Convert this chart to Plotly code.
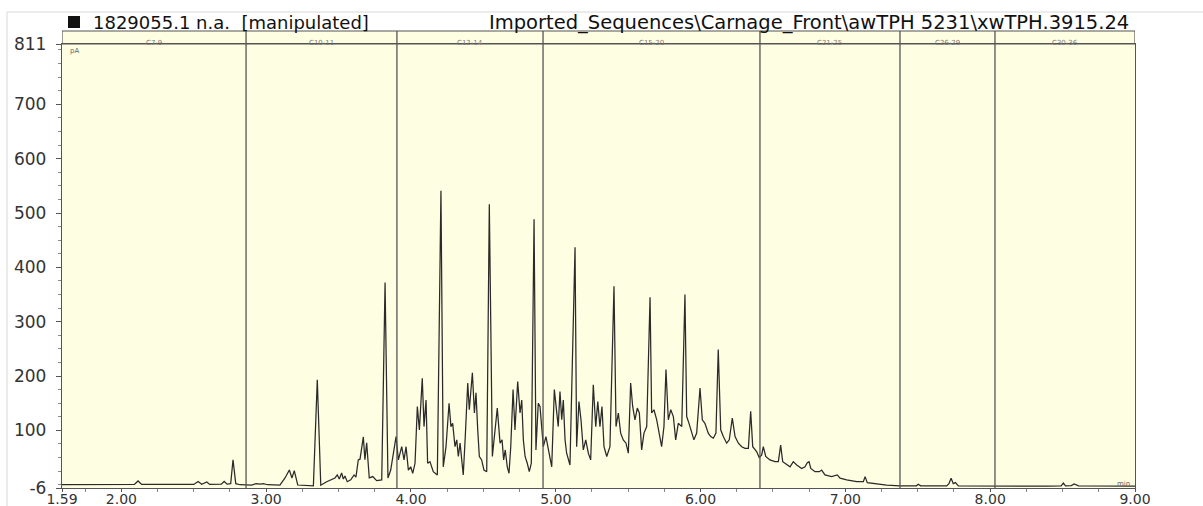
import plotly.graph_objects as go

# ---------------- data ----------------
time_min = [
    1.59, 1.80, 2.09, 2.115, 2.14, 2.50, 2.53, 2.555, 2.59, 2.61, 2.69, 2.71, 2.73, 2.755, 2.771, 2.79, 2.82, 2.90,
    2.93, 2.96, 2.98, 3.01, 3.095, 3.13, 3.160, 3.178, 3.194, 3.218, 3.326, 3.353, 3.377,
    3.418, 3.453, 3.475, 3.491, 3.505, 3.521, 3.533, 3.544, 3.560, 3.584, 3.607, 3.620, 3.636, 3.648,
    3.671, 3.682, 3.694, 3.712, 3.736, 3.763, 3.798, 3.821, 3.841, 3.860, 3.878, 3.897,
    3.913, 3.936, 3.952, 3.966, 3.982, 3.998, 4.012, 4.028, 4.044, 4.058, 4.078, 4.090, 4.104, 4.115,
    4.131, 4.154, 4.182, 4.207, 4.223, 4.242, 4.263, 4.276, 4.288, 4.304, 4.316, 4.327, 4.339, 4.350,
    4.361, 4.375, 4.392, 4.403, 4.424, 4.438, 4.449, 4.461, 4.472, 4.488, 4.504, 4.523, 4.541, 4.562,
    4.580, 4.596, 4.615, 4.629, 4.640, 4.651, 4.665, 4.677, 4.689, 4.705, 4.718, 4.737, 4.753, 4.765,
    4.776, 4.788, 4.803, 4.817, 4.831, 4.850, 4.863, 4.879, 4.891, 4.914, 4.932, 4.948, 4.972, 4.990,
    5.006, 5.017, 5.029, 5.041, 5.052, 5.064, 5.075, 5.098, 5.133, 5.144, 5.160, 5.174, 5.190, 5.207,
    5.225, 5.241, 5.259, 5.276, 5.290, 5.305, 5.319, 5.333, 5.352, 5.374, 5.402, 5.416, 5.432, 5.448,
    5.466, 5.485, 5.501, 5.517, 5.531, 5.547, 5.563, 5.577, 5.593, 5.609, 5.628, 5.651, 5.662, 5.678,
    5.697, 5.715, 5.731, 5.747, 5.761, 5.777, 5.794, 5.812, 5.828, 5.846, 5.870, 5.892, 5.904, 5.920,
    5.939, 5.954, 5.973, 5.996, 6.012, 6.030, 6.053, 6.070, 6.088, 6.106, 6.122, 6.139, 6.157, 6.180,
    6.198, 6.219, 6.238, 6.261, 6.284, 6.307, 6.330, 6.346, 6.360, 6.387, 6.405, 6.422, 6.433, 6.450,
    6.479, 6.514, 6.537, 6.553, 6.567, 6.599, 6.618, 6.640, 6.664, 6.698, 6.721, 6.737, 6.749, 6.761,
    6.790, 6.820, 6.836, 6.859, 6.905, 6.944, 6.963, 7.009, 7.078, 7.124, 7.136, 7.151, 7.216, 7.285,
    7.377, 7.49, 7.503, 7.52, 7.70, 7.715, 7.73, 7.745, 7.76, 7.78, 8.40, 8.49, 8.505, 8.52, 8.56,
    8.58, 8.61, 9.00,
]
signal_pa = [
    0, 0, 0.5, 7, 0.5, 0.5, 6, 1, 5, 0.5, 1, 6, 1, 2, 46, 2, 0, -0.5,
    2, 1, 2, 0, -0.5, 12.5, 27, 12.5, 26, -0.5, -2, 193, -1,
    5.6, 9, 12.5, 18, 10.6, 21.7, 10.6, 16, 5.6, 9, 18, 14, 45.7, 47,
    88, 46, 77, 12.5, 15, 7.5, 9, 372, 12.5, 27, 58.6, 88.7,
    45.7, 70, 45.7, 70, 27, 33, 21, 39.5, 144, 101, 196, 107, 156, 39.5,
    42.5, 24, 18, 541, 33, 70, 150, 107, 113, 70, 82.6, 52, 76.5, 39.5,
    18, 88.7, 187, 138, 206, 132, 169, 101, 52, 45.7, 27, 24, 516, 52,
    107, 141, 76.5, 82.6, 45.7, 64, 33, 21, 70, 175, 101, 190, 132, 156,
    82.6, 52, 39.5, 24, 39.5, 488.5, 64, 150, 144, 70, 88.7, 64, 33, 175,
    132, 107, 171.7, 119.5, 156, 82.6, 58, 36.4, 437, 70, 153, 119.5, 64, 82.6,
    58, 45.7, 184, 107, 153, 107, 144, 70, 52, 70, 365, 107, 132, 95,
    82.6, 76.5, 58, 187, 144, 119.5, 141, 132, 64, 95, 107, 345, 132, 138,
    119.5, 88.7, 70, 107, 212, 119.5, 138, 125.5, 82.6, 113, 107, 350, 125.5, 113,
    95, 82.6, 95, 178, 119.5, 113, 95, 88.7, 85.7, 95, 249, 101, 88.7, 76.5,
    82.6, 122.6, 88.7, 76.5, 70, 67, 67, 135, 70, 61, 50, 55, 70, 52,
    45.7, 42.5, 42.5, 73, 42.5, 36.4, 33, 42.5, 36.4, 30, 33, 40.7, 42.5, 30,
    24, 24, 27, 18, 15, 18, 12, 8.8, 5.6, 5.6, 15, 3.8, 1.4, -0.5,
    -2.3, -2, 1, -2, -2, 2, 12, 2, 4, -2, -2.5, -2, 3, -2, -1.5,
    1.5, -2, -2.5,
]

band_edges = [1.59, 2.861, 3.903, 4.912, 6.41, 7.377, 8.033, 9.00]
band_labels = ["C7-9", "C10-11", "C12-14", "C15-20", "C21-25", "C26-29", "C30-36"]

x_tick_vals = [1.59, 2, 3, 4, 5, 6, 7, 8, 9]
x_tick_text = ["1.59", "2.00", "3.00", "4.00", "5.00", "6.00", "7.00", "8.00", "9.00"]
y_tick_vals = [-6, 100, 200, 300, 400, 500, 600, 700, 811]
y_tick_text = ["-6", "100", "200", "300", "400", "500", "600", "700", "811"]

header_left = "1829055.1 n.a.  [manipulated]"
header_right = "Imported_Sequences\\Carnage_Front\\awTPH 5231\\xwTPH.3915.24"

# ---------------- figure ----------------
BG = "#FEFEE2"
FRAME = "#555555"
FONT = "DejaVu Sans, Verdana, sans-serif"
PLOT_H = 444.0  # plot height in px (t=44 .. 488)
PLOT_W = 1073.0  # plot width in px (l=62 .. 1135)


def py(px_y):
    """page pixel row -> paper y"""
    return (488 - px_y) / PLOT_H


def px(px_x):
    """page pixel column -> paper x"""
    return (px_x - 62) / PLOT_W


fig = go.Figure()
fig.add_trace(go.Scatter(
    x=time_min, y=signal_pa, mode="lines",
    line=dict(color="#2a2a2a", width=1.25), hoverinfo="skip", showlegend=False,
))

strip_top = py(31)
shapes = []
shapes.append(dict(type="rect", xref="x", yref="paper", x0=band_edges[0], x1=band_edges[-1],
                   y0=1, y1=strip_top, fillcolor=BG, line=dict(color=FRAME, width=1.2), layer="below"))
for e in band_edges[1:-1]:
    shapes.append(dict(type="line", xref="x", yref="paper", x0=e, x1=e, y0=0, y1=strip_top,
                       line=dict(color=FRAME, width=1.3)))
# black square in the header
shapes.append(dict(type="rect", xref="paper", yref="paper", x0=px(68), x1=px(80), y0=py(28), y1=py(16),
                   fillcolor="#111", line=dict(width=0)))
# faint scan frame
shapes.append(dict(type="line", xref="paper", yref="paper", x0=px(7), x1=px(1203), y0=py(12), y1=py(12),
                   line=dict(color="#d8d8d8", width=1)))
shapes.append(dict(type="line", xref="paper", yref="paper", x0=px(7), x1=px(7), y0=py(506), y1=py(12),
                   line=dict(color="#d8d8d8", width=1)))

annotations = []
for i, lab in enumerate(band_labels):
    annotations.append(dict(x=(band_edges[i] + band_edges[i + 1]) / 2, xref="x", y=(1 + strip_top) / 2,
                            yref="paper", text=lab, showarrow=False,
                            font=dict(family=FONT, size=7, color="#7a7a7a")))
annotations.append(dict(x=px(91), xref="paper", y=py(22), yref="paper", text=header_left, showarrow=False,
                        xanchor="left", yanchor="middle", font=dict(family=FONT, size=18, color="#111")))
annotations.append(dict(x=px(1131), xref="paper", y=py(22), yref="paper", text=header_right, showarrow=False,
                        xanchor="right", yanchor="middle", font=dict(family=FONT, size=19.5, color="#111")))
annotations.append(dict(x=px(68), xref="paper", y=py(51), yref="paper", text="pA", showarrow=False,
                        xanchor="left", yanchor="middle", font=dict(family=FONT, size=7, color="#666")))
annotations.append(dict(x=px(1132), xref="paper", y=py(484), yref="paper", text="min", showarrow=False,
                        xanchor="right", yanchor="middle", font=dict(family=FONT, size=7, color="#666")))

fig.update_layout(
    width=1203, height=506,
    margin=dict(l=62, r=68, t=44, b=18, autoexpand=False),
    paper_bgcolor="white", plot_bgcolor=BG,
    shapes=shapes, annotations=annotations,
    font=dict(family=FONT, color="#333"),
)
fig.update_xaxes(
    range=[1.59, 9.0], tickmode="array", tickvals=x_tick_vals, ticktext=x_tick_text,
    showgrid=False, zeroline=False, showline=True, linecolor=FRAME, linewidth=1.3, mirror=True,
    ticks="outside", ticklen=3, tickcolor=FRAME, tickfont=dict(size=14, color="#333", family=FONT),
    ticklabelstandoff=-5,
    minor=dict(dtick=0.25, tick0=2, ticks="outside", ticklen=3, tickcolor="#888", showgrid=False),
)
fig.update_yaxes(
    range=[-6, 811], tickmode="array", tickvals=y_tick_vals, ticktext=y_tick_text,
    showgrid=False, zeroline=False, showline=True, linecolor=FRAME, linewidth=1.3, mirror=True,
    ticks="outside", ticklen=5, tickcolor=FRAME, tickfont=dict(size=17, color="#333", family=FONT),
    ticklabelstandoff=6,
    minor=dict(dtick=25, ticks="outside", ticklen=3, tickcolor="#888", showgrid=False),
)

fig.write_html(
    "out.html",
    config={"displayModeBar": False},
    post_script="document.body.style.margin='0';document.body.style.overflow='hidden';",
)
